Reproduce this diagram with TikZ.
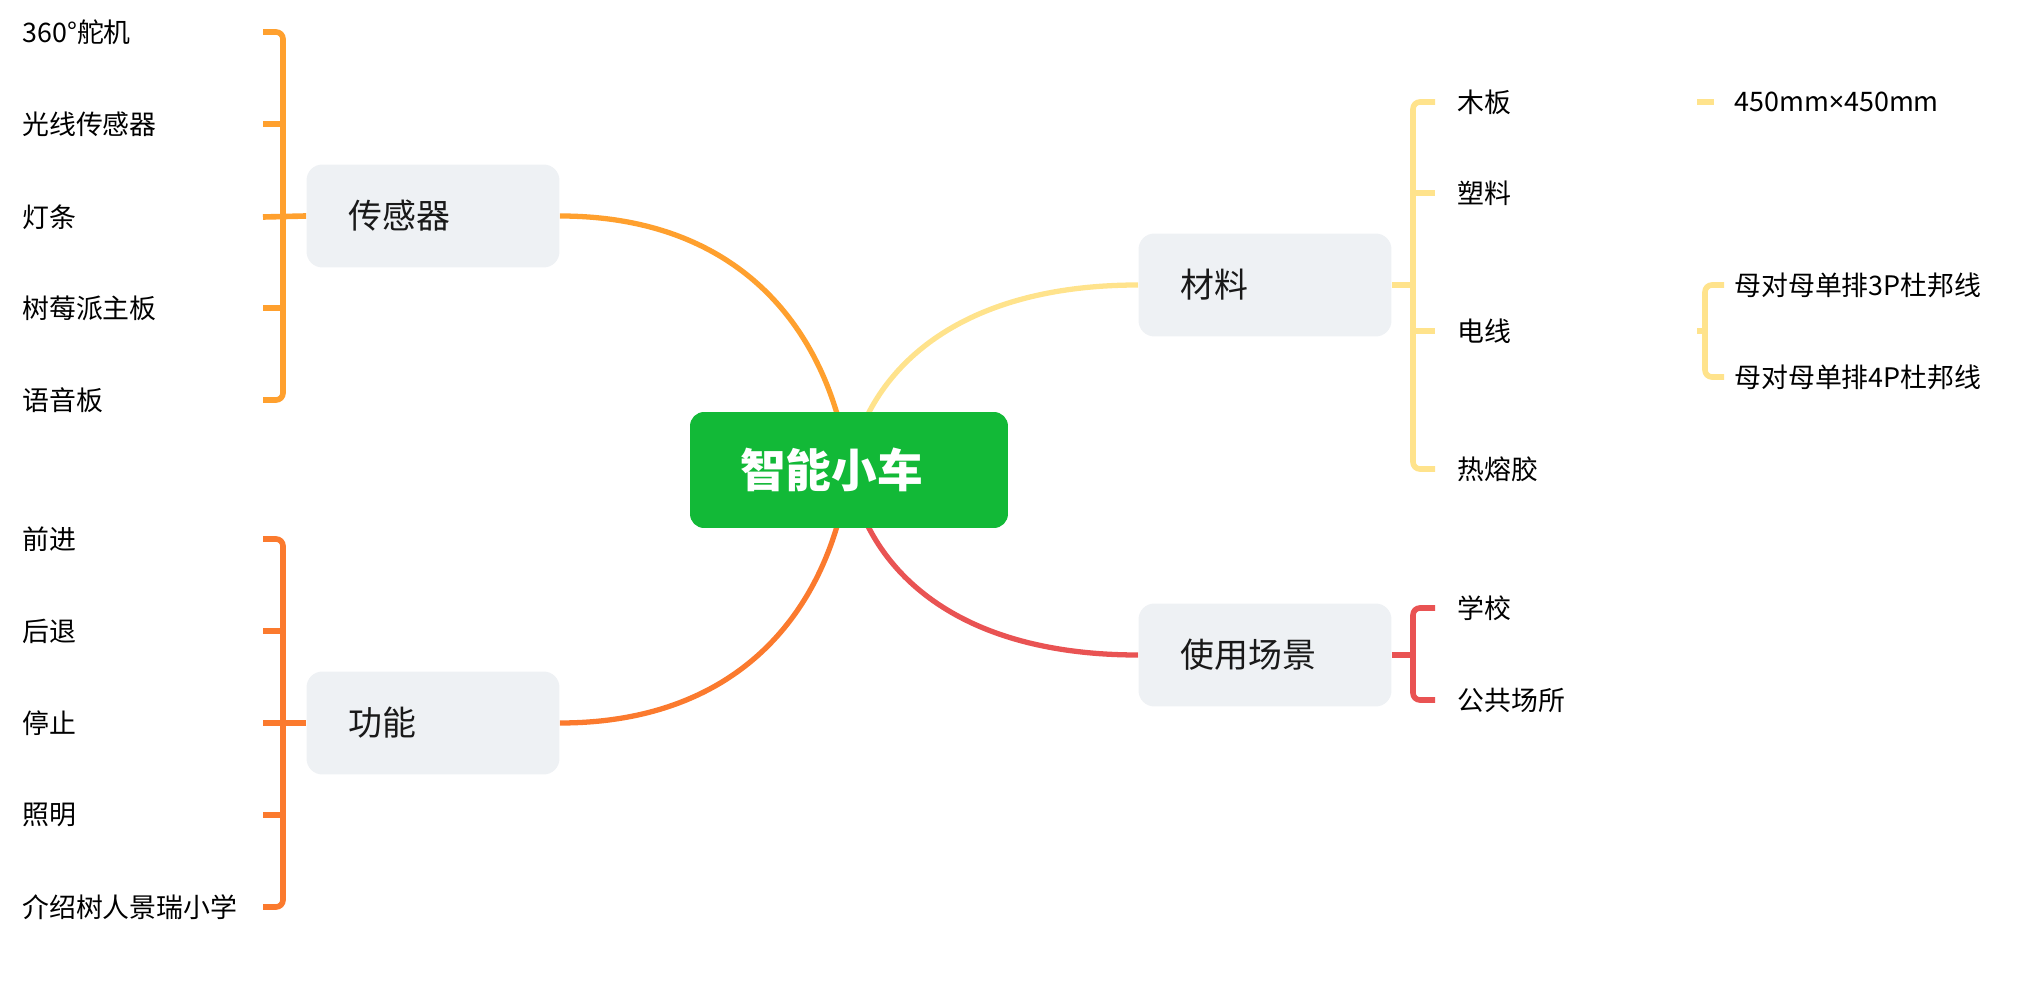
\documentclass[tikz,border=0pt]{standalone}
\usepackage{fontspec}
\setmainfont{Noto Sans CJK SC}
\newfontfamily\latinfont{Noto Sans}
\usetikzlibrary{positioning}
\definecolor{rootc}{HTML}{12B937}
\definecolor{boxc}{HTML}{EEF1F4}
\definecolor{sensorc}{HTML}{FFA02E}
\definecolor{funcc}{HTML}{FB7A2E}
\definecolor{matc}{HTML}{FFE38C}
\definecolor{scenec}{HTML}{E95353}
\pgfdeclarelayer{background}
\pgfsetlayers{background,main}
\tikzset{
    root/.style={
        rectangle, rounded corners=8pt, fill=rootc, text=white,
        text width=4.36cm, inner xsep=1cm, minimum height=2.32cm,
        align=left, font=\fontsize{26pt}{30pt}\selectfont\bfseries
    },
    topic/.style={
        rectangle, rounded corners=9pt, fill=boxc, text=black!90,
        text width=3.38cm, inner xsep=0.84cm, minimum height=2.06cm,
        align=left, font=\fontsize{19.3pt}{23pt}\selectfont
    },
    leaf/.style={
        anchor=west, inner sep=0pt,
        font=\fontsize{15.3pt}{18pt}\selectfont
    },
    branch/.style={line width=3pt},
    brace/.style={line width=3.2pt, rounded corners=4pt}
}

\begin{document}
\begin{tikzpicture}[
    x=0.02cm,
    y=-0.02cm
]
    \useasboundingbox (0,0) rectangle (2018,982);

    % 中心与主题
    \node[root]  (car)   at (849,470)  {智能小车};
    \node[topic] (sens)  at (433,216)  {传感器};
    \node[topic] (func)  at (433,723)  {功能};
    \node[topic] (mat)   at (1265,285) {材料};
    \node[topic] (scene) at (1265,655) {使用场景};

    % 传感器
    \node[leaf] (s1) at (22,32)  {360°舵机};
    \node[leaf] (s2) at (22,124) {光线传感器};
    \node[leaf] (s3) at (22,217) {灯条};
    \node[leaf] (s4) at (22,308) {树莓派主板};
    \node[leaf] (s5) at (22,400) {语音板};

    % 功能
    \node[leaf] (f1) at (22,539) {前进};
    \node[leaf] (f2) at (22,631) {后退};
    \node[leaf] (f3) at (22,723) {停止};
    \node[leaf] (f4) at (22,815) {照明};
    \node[leaf] (f5) at (22,907) {介绍树人景瑞小学};

    % 材料
    \node[leaf] (m1) at (1457,102) {木板};
    \node[leaf] (m2) at (1457,193) {塑料};
    \node[leaf] (m3) at (1457,331) {电线};
    \node[leaf] (m4) at (1457,469) {热熔胶};
    \node[leaf] (m11) at (1734,102) {450mm{\latinfont ×}450mm};
    \node[leaf] (m31) at (1734,285) {母对母单排3P杜邦线};
    \node[leaf] (m32) at (1734,377) {母对母单排4P杜邦线};

    % 使用场景
    \node[leaf] (u1) at (1457,608) {学校};
    \node[leaf] (u2) at (1457,700) {公共场所};

    % 主干曲线
    \begin{pgfonlayer}{background}
        \draw[branch, sensorc] (sens.east)
            .. controls +(180,0) and +(-19,-140) .. (car.center);
        \draw[branch, funcc] (func.east)
            .. controls +(180,0) and +(-19,140) .. (car.center);
        \draw[branch, matc] (mat.west)
            .. controls +(-180,0) and +(19,-101) .. (car.center);
        \draw[branch, scenec] (scene.west)
            .. controls +(-180,0) and +(19,102) .. (car.center);
    \end{pgfonlayer}

    % 括号
    \draw[brace, sensorc] (sens.west) -- (263,217);
    \draw[brace, sensorc] (263,32) -- (283,32) -- (283,400) -- (263,400);
    \draw[brace, sensorc] (263,124) -- (283,124) (263,308) -- (283,308);

    \draw[brace, funcc] (func.west) -- (263,723);
    \draw[brace, funcc] (263,539) -- (283,539) -- (283,907) -- (263,907);
    \draw[brace, funcc] (263,631) -- (283,631) (263,815) -- (283,815);

    \draw[brace, matc] (mat.east) -- (1413,285);
    \draw[brace, matc] (1435,102) -- (1413,102) -- (1413,469) -- (1435,469);
    \draw[brace, matc] (1413,193) -- (1435,193) (1413,331) -- (1435,331);
    \draw[brace, matc] (1697,102) -- (1714,102);
    \draw[brace, matc] (1697,331) -- (1705,331);
    \draw[brace, matc] (1724,285) -- (1705,285) -- (1705,377) -- (1724,377);

    \draw[brace, scenec] (scene.east) -- (1413,655);
    \draw[brace, scenec] (1435,608) -- (1413,608) -- (1413,700) -- (1435,700);

\end{tikzpicture}
\end{document}
